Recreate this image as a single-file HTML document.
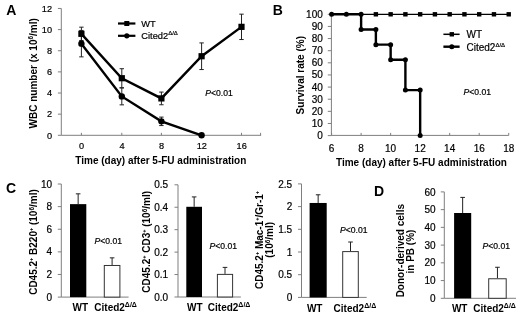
<!DOCTYPE html>
<html><head><meta charset="utf-8"><style>
html,body{margin:0;padding:0;background:#fff;}
svg{display:block;will-change:transform;}
text{font-family:"Liberation Sans",sans-serif;}
text[font-weight="normal"]{stroke:#000;stroke-width:0.2px;}
</style></head><body>
<svg width="520" height="315" viewBox="0 0 520 315">
<rect width="520" height="315" fill="#fff"/>
<text x="6.3" y="14.9" font-size="14" text-anchor="start" font-weight="bold" font-style="normal" fill="#000" >A</text>
<line x1="61.3" y1="8.460000000000008" x2="61.3" y2="135.3" stroke="#7f7f7f" stroke-width="1"/>
<line x1="61.3" y1="135.3" x2="261.1" y2="135.3" stroke="#7f7f7f" stroke-width="1"/>
<line x1="57.9" y1="135.3" x2="61.3" y2="135.3" stroke="#7f7f7f" stroke-width="1"/>
<text x="52.0" y="138.55" font-size="9.2" text-anchor="end" font-weight="normal" font-style="normal" fill="#000" >0</text>
<line x1="57.9" y1="114.16000000000001" x2="61.3" y2="114.16000000000001" stroke="#7f7f7f" stroke-width="1"/>
<text x="52.0" y="117.41000000000001" font-size="9.2" text-anchor="end" font-weight="normal" font-style="normal" fill="#000" >2</text>
<line x1="57.9" y1="93.02000000000001" x2="61.3" y2="93.02000000000001" stroke="#7f7f7f" stroke-width="1"/>
<text x="52.0" y="96.27000000000001" font-size="9.2" text-anchor="end" font-weight="normal" font-style="normal" fill="#000" >4</text>
<line x1="57.9" y1="71.88000000000001" x2="61.3" y2="71.88000000000001" stroke="#7f7f7f" stroke-width="1"/>
<text x="52.0" y="75.13000000000001" font-size="9.2" text-anchor="end" font-weight="normal" font-style="normal" fill="#000" >6</text>
<line x1="57.9" y1="50.74000000000001" x2="61.3" y2="50.74000000000001" stroke="#7f7f7f" stroke-width="1"/>
<text x="52.0" y="53.99000000000001" font-size="9.2" text-anchor="end" font-weight="normal" font-style="normal" fill="#000" >8</text>
<line x1="57.9" y1="29.60000000000001" x2="61.3" y2="29.60000000000001" stroke="#7f7f7f" stroke-width="1"/>
<text x="52.0" y="32.85000000000001" font-size="9.2" text-anchor="end" font-weight="normal" font-style="normal" fill="#000" >10</text>
<line x1="57.9" y1="8.460000000000008" x2="61.3" y2="8.460000000000008" stroke="#7f7f7f" stroke-width="1"/>
<text x="52.0" y="11.710000000000008" font-size="9.2" text-anchor="end" font-weight="normal" font-style="normal" fill="#000" >12</text>
<line x1="81.4" y1="132.8" x2="81.4" y2="135.3" stroke="#7f7f7f" stroke-width="1"/>
<line x1="121.8" y1="132.8" x2="121.8" y2="135.3" stroke="#7f7f7f" stroke-width="1"/>
<line x1="161.4" y1="132.8" x2="161.4" y2="135.3" stroke="#7f7f7f" stroke-width="1"/>
<line x1="201.6" y1="132.8" x2="201.6" y2="135.3" stroke="#7f7f7f" stroke-width="1"/>
<line x1="241.5" y1="132.8" x2="241.5" y2="135.3" stroke="#7f7f7f" stroke-width="1"/>
<line x1="260.6" y1="132.8" x2="260.6" y2="135.3" stroke="#7f7f7f" stroke-width="1"/>
<text x="81.60000000000001" y="148.6" font-size="9.2" text-anchor="middle" font-weight="normal" font-style="normal" fill="#000" >0</text>
<text x="122.0" y="148.6" font-size="9.2" text-anchor="middle" font-weight="normal" font-style="normal" fill="#000" >4</text>
<text x="161.6" y="148.6" font-size="9.2" text-anchor="middle" font-weight="normal" font-style="normal" fill="#000" >8</text>
<text x="201.79999999999998" y="148.6" font-size="9.2" text-anchor="middle" font-weight="normal" font-style="normal" fill="#000" >12</text>
<text x="241.7" y="148.6" font-size="9.2" text-anchor="middle" font-weight="normal" font-style="normal" fill="#000" >16</text>
<text x="160.8" y="164.2" font-size="10" text-anchor="middle" font-weight="bold" font-style="normal" fill="#000" >Time (day) after 5-FU administration</text>
<text transform="translate(36.5,73.3) rotate(-90)" font-size="10" font-weight="bold" text-anchor="middle" fill="#000">WBC number (x 10<tspan font-size="6.5" dy="-3.5">6</tspan><tspan dy="3.5">/ml)</tspan></text>
<line x1="81.4" y1="27.168900000000008" x2="81.4" y2="40.48710000000003" stroke="#222" stroke-width="1"/>
<line x1="79.2" y1="27.168900000000008" x2="83.60000000000001" y2="27.168900000000008" stroke="#222" stroke-width="1"/>
<line x1="79.2" y1="40.48710000000003" x2="83.60000000000001" y2="40.48710000000003" stroke="#222" stroke-width="1"/>
<line x1="121.8" y1="68.709" x2="121.8" y2="87.73500000000001" stroke="#222" stroke-width="1"/>
<line x1="119.6" y1="68.709" x2="124.0" y2="68.709" stroke="#222" stroke-width="1"/>
<line x1="119.6" y1="87.73500000000001" x2="124.0" y2="87.73500000000001" stroke="#222" stroke-width="1"/>
<line x1="161.4" y1="92.0687" x2="161.4" y2="104.7527" stroke="#222" stroke-width="1"/>
<line x1="159.20000000000002" y1="92.0687" x2="163.6" y2="92.0687" stroke="#222" stroke-width="1"/>
<line x1="159.20000000000002" y1="104.7527" x2="163.6" y2="104.7527" stroke="#222" stroke-width="1"/>
<line x1="201.6" y1="42.91820000000001" x2="201.6" y2="69.55460000000001" stroke="#222" stroke-width="1"/>
<line x1="199.4" y1="42.91820000000001" x2="203.79999999999998" y2="42.91820000000001" stroke="#222" stroke-width="1"/>
<line x1="199.4" y1="69.55460000000001" x2="203.79999999999998" y2="69.55460000000001" stroke="#222" stroke-width="1"/>
<line x1="241.5" y1="14.167800000000014" x2="241.5" y2="39.53580000000001" stroke="#222" stroke-width="1"/>
<line x1="239.3" y1="14.167800000000014" x2="243.7" y2="14.167800000000014" stroke="#222" stroke-width="1"/>
<line x1="239.3" y1="39.53580000000001" x2="243.7" y2="39.53580000000001" stroke="#222" stroke-width="1"/>
<line x1="81.4" y1="30.445600000000013" x2="81.4" y2="56.87060000000001" stroke="#222" stroke-width="1"/>
<line x1="79.2" y1="30.445600000000013" x2="83.60000000000001" y2="30.445600000000013" stroke="#222" stroke-width="1"/>
<line x1="79.2" y1="56.87060000000001" x2="83.60000000000001" y2="56.87060000000001" stroke="#222" stroke-width="1"/>
<line x1="121.8" y1="87.94640000000001" x2="121.8" y2="104.85840000000002" stroke="#222" stroke-width="1"/>
<line x1="119.6" y1="87.94640000000001" x2="124.0" y2="87.94640000000001" stroke="#222" stroke-width="1"/>
<line x1="119.6" y1="104.85840000000002" x2="124.0" y2="104.85840000000002" stroke="#222" stroke-width="1"/>
<line x1="161.4" y1="117.1196" x2="161.4" y2="125.57560000000001" stroke="#222" stroke-width="1"/>
<line x1="159.20000000000002" y1="117.1196" x2="163.6" y2="117.1196" stroke="#222" stroke-width="1"/>
<line x1="159.20000000000002" y1="125.57560000000001" x2="163.6" y2="125.57560000000001" stroke="#222" stroke-width="1"/>
<polyline points="81.4,33.82800000000002 121.8,78.22200000000001 161.4,98.4107 201.6,56.2364 241.5,26.85180000000001" fill="none" stroke="#000" stroke-width="2.4"/>
<polyline points="81.4,43.658100000000005 121.8,96.4024 161.4,121.34760000000001 201.6,135.3" fill="none" stroke="#000" stroke-width="2.4"/>
<rect x="78.30000000000001" y="30.728000000000016" width="6.2" height="6.2" fill="#000"/>
<rect x="118.7" y="75.12200000000001" width="6.2" height="6.2" fill="#000"/>
<rect x="158.3" y="95.31070000000001" width="6.2" height="6.2" fill="#000"/>
<rect x="198.5" y="53.1364" width="6.2" height="6.2" fill="#000"/>
<rect x="238.4" y="23.75180000000001" width="6.2" height="6.2" fill="#000"/>
<circle cx="81.4" cy="43.658100000000005" r="3.2" fill="#000"/>
<circle cx="121.8" cy="96.4024" r="3.2" fill="#000"/>
<circle cx="161.4" cy="121.34760000000001" r="3.2" fill="#000"/>
<circle cx="201.6" cy="135.3" r="3.2" fill="#000"/>
<line x1="118" y1="23.5" x2="135.4" y2="23.5" stroke="#000" stroke-width="2.2"/>
<rect x="124.3" y="21" width="5" height="5" fill="#000"/>
<line x1="118" y1="35.8" x2="135.4" y2="35.8" stroke="#000" stroke-width="2.2"/>
<circle cx="126.8" cy="35.8" r="2.6" fill="#000"/>
<text x="141.3" y="26.6" font-size="9.3" text-anchor="start" font-weight="normal" font-style="normal" fill="#000" >WT</text>
<text x="141.3" y="38.6" font-size="9.3" text-anchor="start" font-weight="normal" font-style="normal" fill="#000" >Cited2<tspan font-size="6" dy="-3.4">Δ/Δ</tspan></text>
<text x="205.3" y="95.6" font-size="8.6" text-anchor="start" font-weight="normal" font-style="normal" fill="#000" ><tspan font-style="italic">P</tspan>&lt;0.01</text>
<text x="272.7" y="15.3" font-size="14" text-anchor="start" font-weight="bold" font-style="normal" fill="#000" >B</text>
<line x1="331.4" y1="14.299999999999983" x2="331.4" y2="135.4" stroke="#7f7f7f" stroke-width="1"/>
<line x1="331.4" y1="135.4" x2="508.72" y2="135.4" stroke="#7f7f7f" stroke-width="1"/>
<line x1="327.8" y1="135.6" x2="331.4" y2="135.6" stroke="#7f7f7f" stroke-width="1"/>
<text x="322.8" y="139.1" font-size="10" text-anchor="end" font-weight="normal" font-style="normal" fill="#000" >0</text>
<line x1="327.8" y1="123.47" x2="331.4" y2="123.47" stroke="#7f7f7f" stroke-width="1"/>
<text x="322.8" y="126.97" font-size="10" text-anchor="end" font-weight="normal" font-style="normal" fill="#000" >10</text>
<line x1="327.8" y1="111.33999999999999" x2="331.4" y2="111.33999999999999" stroke="#7f7f7f" stroke-width="1"/>
<text x="322.8" y="114.83999999999999" font-size="10" text-anchor="end" font-weight="normal" font-style="normal" fill="#000" >20</text>
<line x1="327.8" y1="99.21" x2="331.4" y2="99.21" stroke="#7f7f7f" stroke-width="1"/>
<text x="322.8" y="102.71" font-size="10" text-anchor="end" font-weight="normal" font-style="normal" fill="#000" >30</text>
<line x1="327.8" y1="87.07999999999998" x2="331.4" y2="87.07999999999998" stroke="#7f7f7f" stroke-width="1"/>
<text x="322.8" y="90.57999999999998" font-size="10" text-anchor="end" font-weight="normal" font-style="normal" fill="#000" >40</text>
<line x1="327.8" y1="74.94999999999999" x2="331.4" y2="74.94999999999999" stroke="#7f7f7f" stroke-width="1"/>
<text x="322.8" y="78.44999999999999" font-size="10" text-anchor="end" font-weight="normal" font-style="normal" fill="#000" >50</text>
<line x1="327.8" y1="62.81999999999999" x2="331.4" y2="62.81999999999999" stroke="#7f7f7f" stroke-width="1"/>
<text x="322.8" y="66.32" font-size="10" text-anchor="end" font-weight="normal" font-style="normal" fill="#000" >60</text>
<line x1="327.8" y1="50.68999999999998" x2="331.4" y2="50.68999999999998" stroke="#7f7f7f" stroke-width="1"/>
<text x="322.8" y="54.18999999999998" font-size="10" text-anchor="end" font-weight="normal" font-style="normal" fill="#000" >70</text>
<line x1="327.8" y1="38.55999999999999" x2="331.4" y2="38.55999999999999" stroke="#7f7f7f" stroke-width="1"/>
<text x="322.8" y="42.05999999999999" font-size="10" text-anchor="end" font-weight="normal" font-style="normal" fill="#000" >80</text>
<line x1="327.8" y1="26.429999999999993" x2="331.4" y2="26.429999999999993" stroke="#7f7f7f" stroke-width="1"/>
<text x="322.8" y="29.929999999999993" font-size="10" text-anchor="end" font-weight="normal" font-style="normal" fill="#000" >90</text>
<line x1="327.8" y1="14.299999999999983" x2="331.4" y2="14.299999999999983" stroke="#7f7f7f" stroke-width="1"/>
<text x="322.8" y="17.799999999999983" font-size="10" text-anchor="end" font-weight="normal" font-style="normal" fill="#000" >100</text>
<line x1="331.6" y1="132.9" x2="331.6" y2="135.4" stroke="#7f7f7f" stroke-width="1"/>
<text x="331.6" y="151.6" font-size="10" text-anchor="middle" font-weight="normal" font-style="normal" fill="#000" >6</text>
<line x1="361.12" y1="132.9" x2="361.12" y2="135.4" stroke="#7f7f7f" stroke-width="1"/>
<text x="361.12" y="151.6" font-size="10" text-anchor="middle" font-weight="normal" font-style="normal" fill="#000" >8</text>
<line x1="390.64000000000004" y1="132.9" x2="390.64000000000004" y2="135.4" stroke="#7f7f7f" stroke-width="1"/>
<text x="390.64000000000004" y="151.6" font-size="10" text-anchor="middle" font-weight="normal" font-style="normal" fill="#000" >10</text>
<line x1="420.16" y1="132.9" x2="420.16" y2="135.4" stroke="#7f7f7f" stroke-width="1"/>
<text x="420.16" y="151.6" font-size="10" text-anchor="middle" font-weight="normal" font-style="normal" fill="#000" >12</text>
<line x1="449.68" y1="132.9" x2="449.68" y2="135.4" stroke="#7f7f7f" stroke-width="1"/>
<text x="449.68" y="151.6" font-size="10" text-anchor="middle" font-weight="normal" font-style="normal" fill="#000" >14</text>
<line x1="479.20000000000005" y1="132.9" x2="479.20000000000005" y2="135.4" stroke="#7f7f7f" stroke-width="1"/>
<text x="479.20000000000005" y="151.6" font-size="10" text-anchor="middle" font-weight="normal" font-style="normal" fill="#000" >16</text>
<line x1="508.72" y1="132.9" x2="508.72" y2="135.4" stroke="#7f7f7f" stroke-width="1"/>
<text x="508.72" y="151.6" font-size="10" text-anchor="middle" font-weight="normal" font-style="normal" fill="#000" >18</text>
<text x="421.5" y="165.5" font-size="10" text-anchor="middle" font-weight="bold" font-style="normal" fill="#000" >Time (day) after 5-FU administration</text>
<text transform="translate(303.6,75.2) rotate(-90)" font-size="10" font-weight="bold" text-anchor="middle" fill="#000">Survival rate (%)</text>
<line x1="331.6" y1="14.299999999999983" x2="508.72" y2="14.299999999999983" stroke="#000" stroke-width="1.3"/>
<rect x="373.68" y="12.099999999999984" width="4.4" height="4.4" fill="#000"/>
<rect x="388.44000000000005" y="12.099999999999984" width="4.4" height="4.4" fill="#000"/>
<rect x="403.20000000000005" y="12.099999999999984" width="4.4" height="4.4" fill="#000"/>
<rect x="417.96000000000004" y="12.099999999999984" width="4.4" height="4.4" fill="#000"/>
<rect x="432.72" y="12.099999999999984" width="4.4" height="4.4" fill="#000"/>
<rect x="447.48" y="12.099999999999984" width="4.4" height="4.4" fill="#000"/>
<rect x="462.24000000000007" y="12.099999999999984" width="4.4" height="4.4" fill="#000"/>
<rect x="477.00000000000006" y="12.099999999999984" width="4.4" height="4.4" fill="#000"/>
<rect x="491.76000000000005" y="12.099999999999984" width="4.4" height="4.4" fill="#000"/>
<rect x="506.52000000000004" y="12.099999999999984" width="4.4" height="4.4" fill="#000"/>
<polyline points="331.6,14.299999999999983 346.36,14.299999999999983 361.12,14.299999999999983 361.12,29.46249999999999 375.88,29.46249999999999 375.88,44.624999999999986 390.64000000000004,44.624999999999986 390.64000000000004,59.787499999999994 405.40000000000003,59.787499999999994 405.40000000000003,90.11249999999998 420.16,90.11249999999998 420.16,135.6" fill="none" stroke="#000" stroke-width="2.4"/>
<circle cx="331.6" cy="14.299999999999983" r="2.5" fill="#000"/>
<circle cx="346.36" cy="14.299999999999983" r="2.5" fill="#000"/>
<circle cx="361.12" cy="14.299999999999983" r="2.5" fill="#000"/>
<circle cx="361.12" cy="29.46249999999999" r="2.5" fill="#000"/>
<circle cx="375.88" cy="29.46249999999999" r="2.5" fill="#000"/>
<circle cx="375.88" cy="44.624999999999986" r="2.5" fill="#000"/>
<circle cx="390.64000000000004" cy="44.624999999999986" r="2.5" fill="#000"/>
<circle cx="390.64000000000004" cy="59.787499999999994" r="2.5" fill="#000"/>
<circle cx="405.40000000000003" cy="59.787499999999994" r="2.5" fill="#000"/>
<circle cx="405.40000000000003" cy="90.11249999999998" r="2.5" fill="#000"/>
<circle cx="420.16" cy="90.11249999999998" r="2.5" fill="#000"/>
<circle cx="420.16" cy="135.6" r="2.5" fill="#000"/>
<line x1="443.4" y1="34.3" x2="459.6" y2="34.3" stroke="#000" stroke-width="1.5"/>
<rect x="449.6" y="32.1" width="4.4" height="4.4" fill="#000"/>
<line x1="443.4" y1="46.7" x2="459.6" y2="46.7" stroke="#000" stroke-width="2.4"/>
<circle cx="451.8" cy="46.7" r="2.5" fill="#000"/>
<text x="466.5" y="38.3" font-size="10" text-anchor="start" font-weight="normal" font-style="normal" fill="#000" >WT</text>
<text x="466.5" y="50.5" font-size="10" text-anchor="start" font-weight="normal" font-style="normal" fill="#000" >Cited2<tspan font-size="6" dy="-3.6">Δ/Δ</tspan></text>
<text x="463.5" y="94.8" font-size="8.6" text-anchor="start" font-weight="normal" font-style="normal" fill="#000" ><tspan font-style="italic">P</tspan>&lt;0.01</text>
<text x="5.9" y="193.3" font-size="14" text-anchor="start" font-weight="bold" font-style="normal" fill="#000" >C</text>
<line x1="61.3" y1="184.0" x2="61.3" y2="297.1" stroke="#7f7f7f" stroke-width="1"/>
<line x1="61.3" y1="297.1" x2="128.6" y2="297.1" stroke="#7f7f7f" stroke-width="1"/>
<line x1="57.8" y1="297.1" x2="61.3" y2="297.1" stroke="#7f7f7f" stroke-width="1"/>
<text x="52.0" y="300.70000000000005" font-size="10" text-anchor="end" font-weight="normal" font-style="normal" fill="#000" >0</text>
<line x1="57.8" y1="274.48" x2="61.3" y2="274.48" stroke="#7f7f7f" stroke-width="1"/>
<text x="52.0" y="278.08000000000004" font-size="10" text-anchor="end" font-weight="normal" font-style="normal" fill="#000" >2</text>
<line x1="57.8" y1="251.86" x2="61.3" y2="251.86" stroke="#7f7f7f" stroke-width="1"/>
<text x="52.0" y="255.46" font-size="10" text-anchor="end" font-weight="normal" font-style="normal" fill="#000" >4</text>
<line x1="57.8" y1="229.24" x2="61.3" y2="229.24" stroke="#7f7f7f" stroke-width="1"/>
<text x="52.0" y="232.84" font-size="10" text-anchor="end" font-weight="normal" font-style="normal" fill="#000" >6</text>
<line x1="57.8" y1="206.62" x2="61.3" y2="206.62" stroke="#7f7f7f" stroke-width="1"/>
<text x="52.0" y="210.22" font-size="10" text-anchor="end" font-weight="normal" font-style="normal" fill="#000" >8</text>
<line x1="57.8" y1="184.0" x2="61.3" y2="184.0" stroke="#7f7f7f" stroke-width="1"/>
<text x="52.0" y="187.6" font-size="10" text-anchor="end" font-weight="normal" font-style="normal" fill="#000" >10</text>
<line x1="78.15" y1="193.8397" x2="78.15" y2="204.1318" stroke="#222" stroke-width="1"/>
<line x1="75.85000000000001" y1="193.8397" x2="80.45" y2="193.8397" stroke="#222" stroke-width="1"/>
<rect x="70" y="204.1318" width="16.299999999999997" height="92.96820000000002" fill="#000"/>
<line x1="112.1" y1="257.8543" x2="112.1" y2="264.9796" stroke="#222" stroke-width="1"/>
<line x1="109.8" y1="257.8543" x2="114.39999999999999" y2="257.8543" stroke="#222" stroke-width="1"/>
<rect x="104.3" y="265.4796" width="15.600000000000009" height="31.620400000000018" fill="#fff" stroke="#333" stroke-width="1"/>
<text x="72.6" y="311" font-size="10" text-anchor="start" font-weight="bold" font-style="normal" fill="#000" >WT</text>
<text x="94.3" y="311" font-size="10" text-anchor="start" font-weight="bold" font-style="normal" fill="#000" >Cited2<tspan font-size="7" dy="-3.6">Δ/Δ</tspan></text>
<text transform="translate(37,242) rotate(-90)" font-size="10" font-weight="bold" text-anchor="middle" fill="#000">CD45.2<tspan font-size="5.5" dy="-4">+</tspan><tspan dy="4"> B220<tspan font-size="5.5" dy="-4">+</tspan><tspan dy="4"> (10<tspan font-size="6.5" dy="-3.5">6</tspan><tspan dy="3.5">/ml)</tspan></tspan></tspan></text>
<text x="94.5" y="244" font-size="8.6" text-anchor="start" font-weight="normal" font-style="normal" fill="#000" ><tspan font-style="italic">P</tspan>&lt;0.01</text>
<line x1="178.0" y1="184.8" x2="178.0" y2="297.0" stroke="#7f7f7f" stroke-width="1"/>
<line x1="178.0" y1="297.0" x2="240.9" y2="297.0" stroke="#7f7f7f" stroke-width="1"/>
<line x1="174.5" y1="297.0" x2="178.0" y2="297.0" stroke="#7f7f7f" stroke-width="1"/>
<text x="168.2" y="300.6" font-size="10" text-anchor="end" font-weight="normal" font-style="normal" fill="#000" >0.0</text>
<line x1="174.5" y1="274.56" x2="178.0" y2="274.56" stroke="#7f7f7f" stroke-width="1"/>
<text x="168.2" y="278.16" font-size="10" text-anchor="end" font-weight="normal" font-style="normal" fill="#000" >0.1</text>
<line x1="174.5" y1="252.12" x2="178.0" y2="252.12" stroke="#7f7f7f" stroke-width="1"/>
<text x="168.2" y="255.72" font-size="10" text-anchor="end" font-weight="normal" font-style="normal" fill="#000" >0.2</text>
<line x1="174.5" y1="229.68" x2="178.0" y2="229.68" stroke="#7f7f7f" stroke-width="1"/>
<text x="168.2" y="233.28" font-size="10" text-anchor="end" font-weight="normal" font-style="normal" fill="#000" >0.3</text>
<line x1="174.5" y1="207.24" x2="178.0" y2="207.24" stroke="#7f7f7f" stroke-width="1"/>
<text x="168.2" y="210.84" font-size="10" text-anchor="end" font-weight="normal" font-style="normal" fill="#000" >0.4</text>
<line x1="174.5" y1="184.8" x2="178.0" y2="184.8" stroke="#7f7f7f" stroke-width="1"/>
<text x="168.2" y="188.4" font-size="10" text-anchor="end" font-weight="normal" font-style="normal" fill="#000" >0.5</text>
<line x1="194.15" y1="196.9176" x2="194.15" y2="206.7912" stroke="#222" stroke-width="1"/>
<line x1="191.85" y1="196.9176" x2="196.45000000000002" y2="196.9176" stroke="#222" stroke-width="1"/>
<rect x="186.3" y="206.7912" width="15.699999999999989" height="90.2088" fill="#000"/>
<line x1="225.0" y1="267.3792" x2="225.0" y2="273.8868" stroke="#222" stroke-width="1"/>
<line x1="222.7" y1="267.3792" x2="227.3" y2="267.3792" stroke="#222" stroke-width="1"/>
<rect x="217.4" y="274.3868" width="15.199999999999989" height="22.613200000000006" fill="#fff" stroke="#333" stroke-width="1"/>
<text x="187.0" y="310.7" font-size="10" text-anchor="start" font-weight="bold" font-style="normal" fill="#000" >WT</text>
<text x="207.8" y="310.7" font-size="10" text-anchor="start" font-weight="bold" font-style="normal" fill="#000" >Cited2<tspan font-size="7" dy="-3.6">Δ/Δ</tspan></text>
<text transform="translate(150,241.8) rotate(-90)" font-size="10" font-weight="bold" text-anchor="middle" fill="#000">CD45.2<tspan font-size="5.5" dy="-4">+</tspan><tspan dy="4"> CD3<tspan font-size="5.5" dy="-4">+</tspan><tspan dy="4"> (10<tspan font-size="6.5" dy="-3.5">6</tspan><tspan dy="3.5">/ml)</tspan></tspan></tspan></text>
<text x="209.5" y="249.1" font-size="8.6" text-anchor="start" font-weight="normal" font-style="normal" fill="#000" ><tspan font-style="italic">P</tspan>&lt;0.01</text>
<line x1="301.5" y1="183.9" x2="301.5" y2="297.4" stroke="#7f7f7f" stroke-width="1"/>
<line x1="301.5" y1="297.4" x2="366.7" y2="297.4" stroke="#7f7f7f" stroke-width="1"/>
<line x1="298.0" y1="297.4" x2="301.5" y2="297.4" stroke="#7f7f7f" stroke-width="1"/>
<text x="292.2" y="301.0" font-size="10" text-anchor="end" font-weight="normal" font-style="normal" fill="#000" >0</text>
<line x1="298.0" y1="274.7" x2="301.5" y2="274.7" stroke="#7f7f7f" stroke-width="1"/>
<text x="292.2" y="278.3" font-size="10" text-anchor="end" font-weight="normal" font-style="normal" fill="#000" >0.5</text>
<line x1="298.0" y1="252.0" x2="301.5" y2="252.0" stroke="#7f7f7f" stroke-width="1"/>
<text x="292.2" y="255.6" font-size="10" text-anchor="end" font-weight="normal" font-style="normal" fill="#000" >1</text>
<line x1="298.0" y1="229.29999999999998" x2="301.5" y2="229.29999999999998" stroke="#7f7f7f" stroke-width="1"/>
<text x="292.2" y="232.89999999999998" font-size="10" text-anchor="end" font-weight="normal" font-style="normal" fill="#000" >1.5</text>
<line x1="298.0" y1="206.6" x2="301.5" y2="206.6" stroke="#7f7f7f" stroke-width="1"/>
<text x="292.2" y="210.2" font-size="10" text-anchor="end" font-weight="normal" font-style="normal" fill="#000" >2</text>
<line x1="298.0" y1="183.9" x2="301.5" y2="183.9" stroke="#7f7f7f" stroke-width="1"/>
<text x="292.2" y="187.5" font-size="10" text-anchor="end" font-weight="normal" font-style="normal" fill="#000" >2.5</text>
<line x1="318.15" y1="194.796" x2="318.15" y2="202.968" stroke="#222" stroke-width="1"/>
<line x1="315.84999999999997" y1="194.796" x2="320.45" y2="194.796" stroke="#222" stroke-width="1"/>
<rect x="309.6" y="202.968" width="17.099999999999966" height="94.43199999999999" fill="#000"/>
<line x1="350.5" y1="242.012" x2="350.5" y2="251.09199999999998" stroke="#222" stroke-width="1"/>
<line x1="348.2" y1="242.012" x2="352.8" y2="242.012" stroke="#222" stroke-width="1"/>
<rect x="342.7" y="251.59199999999998" width="15.600000000000023" height="45.80799999999999" fill="#fff" stroke="#333" stroke-width="1"/>
<text x="306.9" y="311.5" font-size="10" text-anchor="start" font-weight="bold" font-style="normal" fill="#000" >WT</text>
<text x="333.6" y="311.5" font-size="10" text-anchor="start" font-weight="bold" font-style="normal" fill="#000" >Cited2<tspan font-size="7" dy="-3.6">Δ/Δ</tspan></text>
<text transform="translate(263,240) rotate(-90)" font-size="10" font-weight="bold" text-anchor="middle" fill="#000">CD45.2<tspan font-size="5.5" dy="-4">+</tspan><tspan dy="4"> Mac-1<tspan font-size="5.5" dy="-4">+</tspan><tspan dy="4">/Gr-1<tspan font-size="5.5" dy="-4">+</tspan><tspan dy="4"></tspan></tspan></tspan></text>
<text transform="translate(273.2,239.8) rotate(-90)" font-size="10" font-weight="bold" text-anchor="middle" fill="#000">(10<tspan font-size="6.5" dy="-3.5">6</tspan><tspan dy="3.5">/ml)</tspan></text>
<text x="340" y="232.7" font-size="8.6" text-anchor="start" font-weight="normal" font-style="normal" fill="#000" ><tspan font-style="italic">P</tspan>&lt;0.01</text>
<text x="374" y="195.7" font-size="14" text-anchor="start" font-weight="bold" font-style="normal" fill="#000" >D</text>
<line x1="444.3" y1="191.9" x2="444.3" y2="298.3" stroke="#7f7f7f" stroke-width="1"/>
<line x1="444.3" y1="298.3" x2="516" y2="298.3" stroke="#7f7f7f" stroke-width="1"/>
<line x1="440.8" y1="298.3" x2="444.3" y2="298.3" stroke="#7f7f7f" stroke-width="1"/>
<text x="435.5" y="301.90000000000003" font-size="10" text-anchor="end" font-weight="normal" font-style="normal" fill="#000" >0</text>
<line x1="440.8" y1="280.56666666666666" x2="444.3" y2="280.56666666666666" stroke="#7f7f7f" stroke-width="1"/>
<text x="435.5" y="284.1666666666667" font-size="10" text-anchor="end" font-weight="normal" font-style="normal" fill="#000" >10</text>
<line x1="440.8" y1="262.83333333333337" x2="444.3" y2="262.83333333333337" stroke="#7f7f7f" stroke-width="1"/>
<text x="435.5" y="266.4333333333334" font-size="10" text-anchor="end" font-weight="normal" font-style="normal" fill="#000" >20</text>
<line x1="440.8" y1="245.10000000000002" x2="444.3" y2="245.10000000000002" stroke="#7f7f7f" stroke-width="1"/>
<text x="435.5" y="248.70000000000002" font-size="10" text-anchor="end" font-weight="normal" font-style="normal" fill="#000" >30</text>
<line x1="440.8" y1="227.36666666666667" x2="444.3" y2="227.36666666666667" stroke="#7f7f7f" stroke-width="1"/>
<text x="435.5" y="230.96666666666667" font-size="10" text-anchor="end" font-weight="normal" font-style="normal" fill="#000" >40</text>
<line x1="440.8" y1="209.63333333333333" x2="444.3" y2="209.63333333333333" stroke="#7f7f7f" stroke-width="1"/>
<text x="435.5" y="213.23333333333332" font-size="10" text-anchor="end" font-weight="normal" font-style="normal" fill="#000" >50</text>
<line x1="440.8" y1="191.9" x2="444.3" y2="191.9" stroke="#7f7f7f" stroke-width="1"/>
<text x="435.5" y="195.5" font-size="10" text-anchor="end" font-weight="normal" font-style="normal" fill="#000" >60</text>
<line x1="462.65" y1="197.39733333333334" x2="462.65" y2="213.00266666666667" stroke="#222" stroke-width="1"/>
<line x1="460.34999999999997" y1="197.39733333333334" x2="464.95" y2="197.39733333333334" stroke="#222" stroke-width="1"/>
<rect x="454.1" y="213.00266666666667" width="17.099999999999966" height="85.29733333333334" fill="#000"/>
<line x1="497.45" y1="267.26666666666665" x2="497.45" y2="278.26133333333337" stroke="#222" stroke-width="1"/>
<line x1="495.15" y1="267.26666666666665" x2="499.75" y2="267.26666666666665" stroke="#222" stroke-width="1"/>
<rect x="488.7" y="278.76133333333337" width="17.5" height="19.538666666666643" fill="#fff" stroke="#333" stroke-width="1"/>
<text x="451.9" y="311.5" font-size="10" text-anchor="start" font-weight="bold" font-style="normal" fill="#000" >WT</text>
<text x="473.3" y="311.5" font-size="10" text-anchor="start" font-weight="bold" font-style="normal" fill="#000" >Cited2<tspan font-size="7" dy="-3.6">Δ/Δ</tspan></text>
<text transform="translate(404.2,250.7) rotate(-90)" font-size="10" font-weight="bold" text-anchor="middle" fill="#000">Donor-derived cells</text>
<text transform="translate(414.2,251.6) rotate(-90)" font-size="10" font-weight="bold" text-anchor="middle" fill="#000">in PB (%)</text>
<text x="482.5" y="249" font-size="8.6" text-anchor="start" font-weight="normal" font-style="normal" fill="#000" ><tspan font-style="italic">P</tspan>&lt;0.01</text>
</svg>
</body></html>
